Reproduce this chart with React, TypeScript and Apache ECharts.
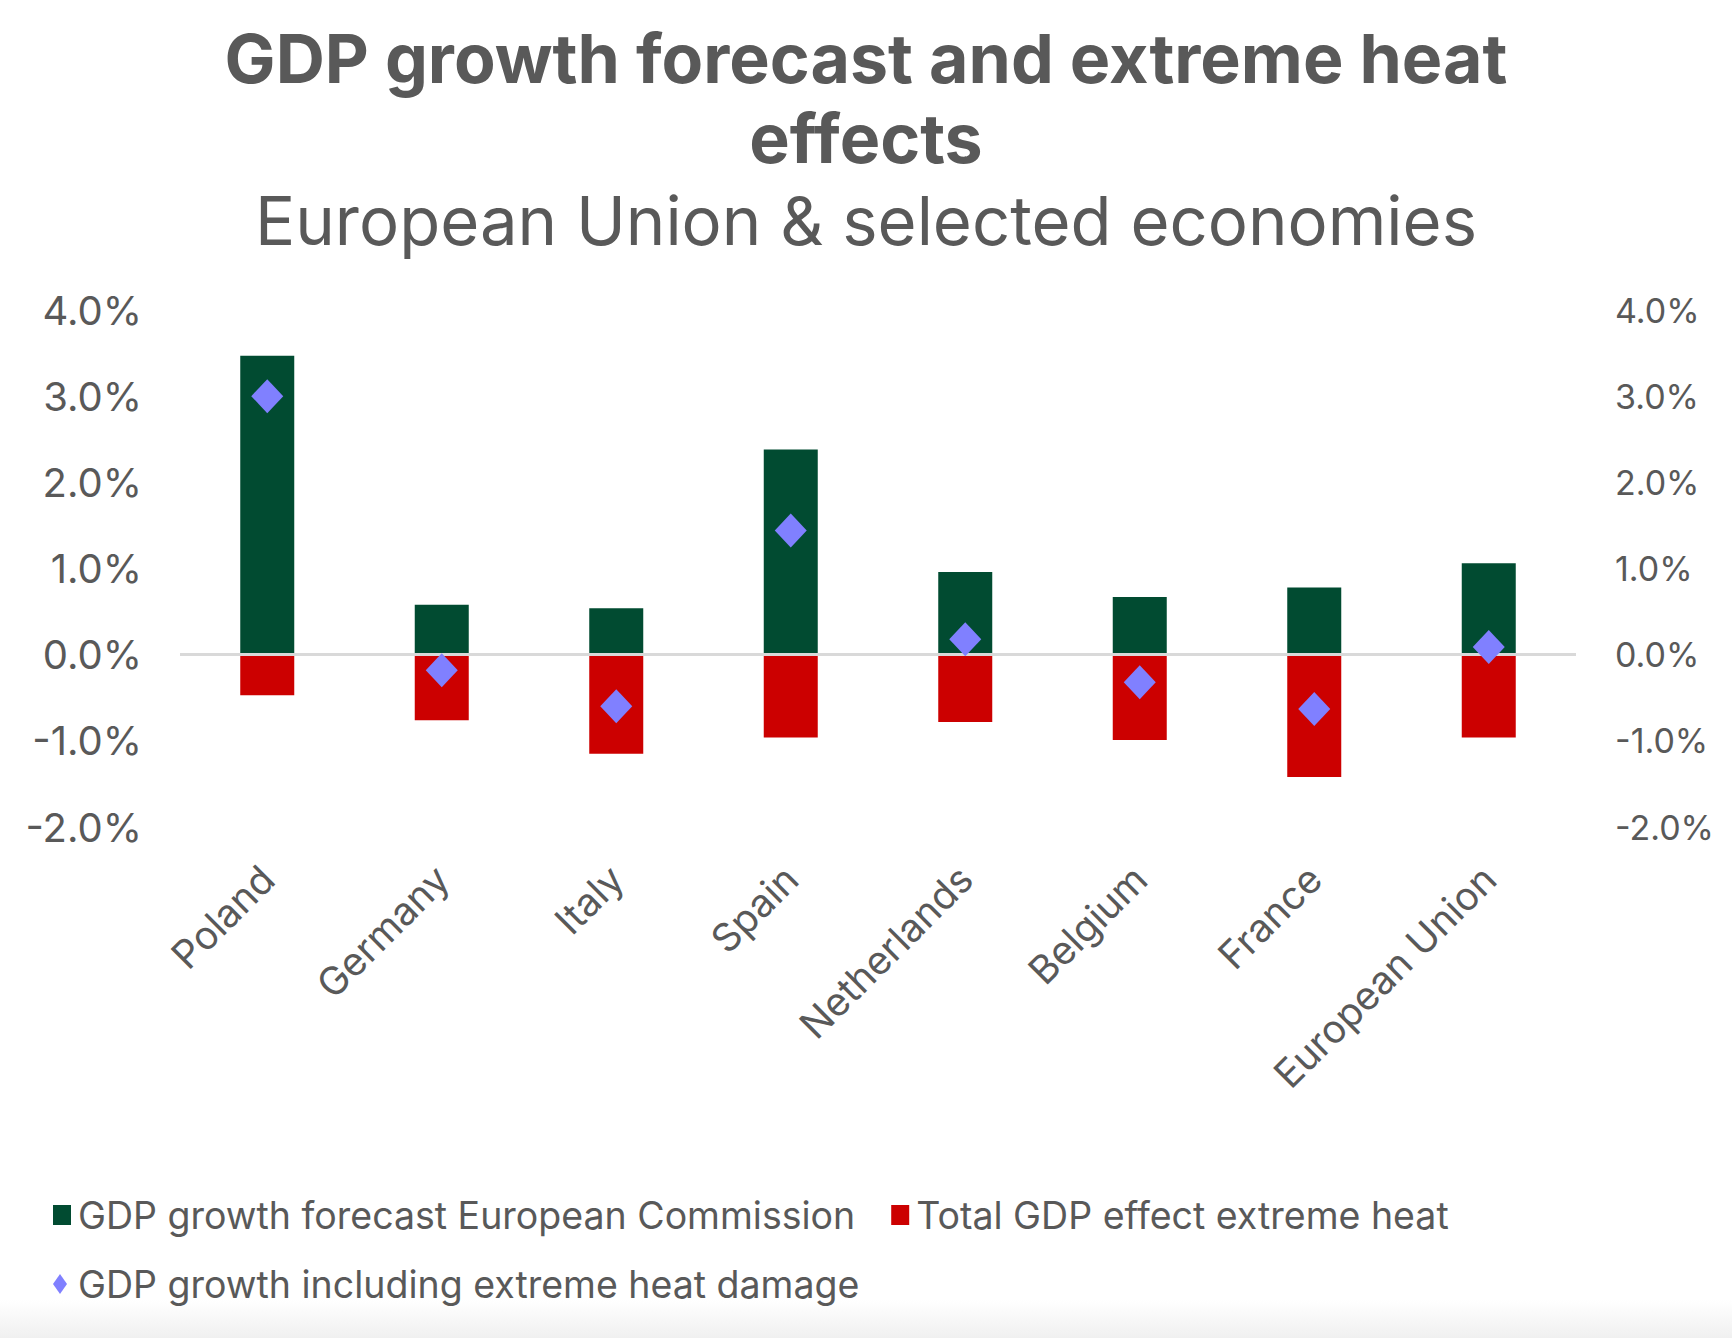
import {useEffect, useRef} from "react";
import * as echarts from "echarts";

const countries = ["Poland", "Germany", "Italy", "Spain", "Netherlands", "Belgium", "France", "European Union"];
const forecast = [3.47, 0.58, 0.54, 2.38, 0.96, 0.67, 0.78, 1.06];
const heatEffect = [-0.47, -0.76, -1.15, -0.96, -0.78, -0.99, -1.42, -0.96];
const withHeat = [3.0, -0.18, -0.6, 1.44, 0.18, -0.32, -0.63, 0.09];

const seriesNames = [
    "GDP growth forecast European Commission",
    "Total GDP effect extreme heat",
    "GDP growth including extreme heat damage",
];
const titleLines = ["GDP growth forecast and extreme heat", "effects"];
const subtitle = "European Union & selected economies";

const Y_MIN = -2;
const Y_MAX = 4;
const Y_STEP = 1;

const FONT = "Inter, 'Noto Sans', sans-serif";
const GREY = "#595959";
const GREEN = "#014b31";
const RED = "#cc0000";
const VIOLET = "#8080ff";

export default function App() {
    const domRef = useRef<HTMLDivElement>(null);

    useEffect(() => {
        document.body.style.margin = "0";
        if (!domRef.current) return;
        const chart = echarts.init(domRef.current, null, {renderer: "svg"});

        const pct = (v: number) => v.toFixed(1) + "%";
        const valueAxis = (position: "left" | "right", size: number, margin: number) => ({
            type: "value",
            position,
            min: Y_MIN,
            max: Y_MAX,
            interval: Y_STEP,
            axisLine: {show: false},
            axisTick: {show: false},
            splitLine: {show: false},
            axisLabel: {formatter: pct, color: GREY, fontSize: size, fontFamily: FONT, margin},
        });

        chart.setOption({
            animation: false,
            backgroundColor: "#ffffff",
            graphic: [
                {
                    type: "text", x: 866, y: 58,
                    style: {text: titleLines[0], fill: GREY, font: `bold 68px ${FONT}`, textAlign: "center", textVerticalAlign: "middle"},
                },
                {
                    type: "text", x: 866, y: 138,
                    style: {text: titleLines[1], fill: GREY, font: `bold 68px ${FONT}`, textAlign: "center", textVerticalAlign: "middle"},
                },
                {
                    type: "text", x: 866, y: 220,
                    style: {text: subtitle, fill: GREY, font: `67px ${FONT}`, textAlign: "center", textVerticalAlign: "middle"},
                },
                {
                    type: "rect", z: -10, shape: {x: 0, y: 1300, width: 1732, height: 38},
                    style: {fill: new echarts.graphic.LinearGradient(0, 0, 0, 1, [{offset: 0, color: "#ffffff"}, {offset: 1, color: "#f0f0f0"}])},
                },
            ],
            legend: [
                {
                    data: [seriesNames[0], seriesNames[1]],
                    left: 48, top: 1191,
                    itemWidth: 18, itemHeight: 20, itemGap: 36,
                    icon: "rect",
                    textStyle: {color: GREY, fontSize: 37.5, fontFamily: FONT, padding: [0, 0, 0, 2]},
                },
                {
                    data: [seriesNames[2]],
                    left: 48, top: 1260,
                    itemWidth: 14, itemHeight: 20,
                    icon: "diamond",
                    textStyle: {color: GREY, fontSize: 37.5, fontFamily: FONT, padding: [0, 0, 0, 6]},
                },
            ],
            grid: {left: 180, right: 156, top: 310, bottom: 511, containLabel: false},
            xAxis: {
                type: "category",
                data: countries,
                axisLine: {show: false, onZero: false},
                axisTick: {show: false},
                axisLabel: {rotate: 45, color: GREY, fontSize: 39, fontFamily: FONT, margin: 45, interval: 0},
            },
            yAxis: [valueAxis("left", 40, 38), valueAxis("right", 34, 39)],
            series: [
                {
                    name: seriesNames[0], type: "bar", stack: "gdp", data: forecast,
                    barWidth: 54, itemStyle: {color: GREEN},
                    markLine: {
                        silent: true, symbol: "none", label: {show: false},
                        lineStyle: {color: "#d9d9d9", width: 3, type: "solid"},
                        data: [{yAxis: 0}],
                    },
                },
                {
                    name: seriesNames[1], type: "bar", stack: "gdp", data: heatEffect,
                    barWidth: 54, itemStyle: {color: RED},
                },
                {
                    name: seriesNames[2], type: "scatter", data: withHeat,
                    symbol: "diamond", symbolSize: [32, 34], itemStyle: {color: VIOLET, opacity: 1}, z: 5,
                },
            ],
        });

        return () => chart.dispose();
    }, []);

    return <div ref={domRef} style={{width: 1732, height: 1338}} />;
}
